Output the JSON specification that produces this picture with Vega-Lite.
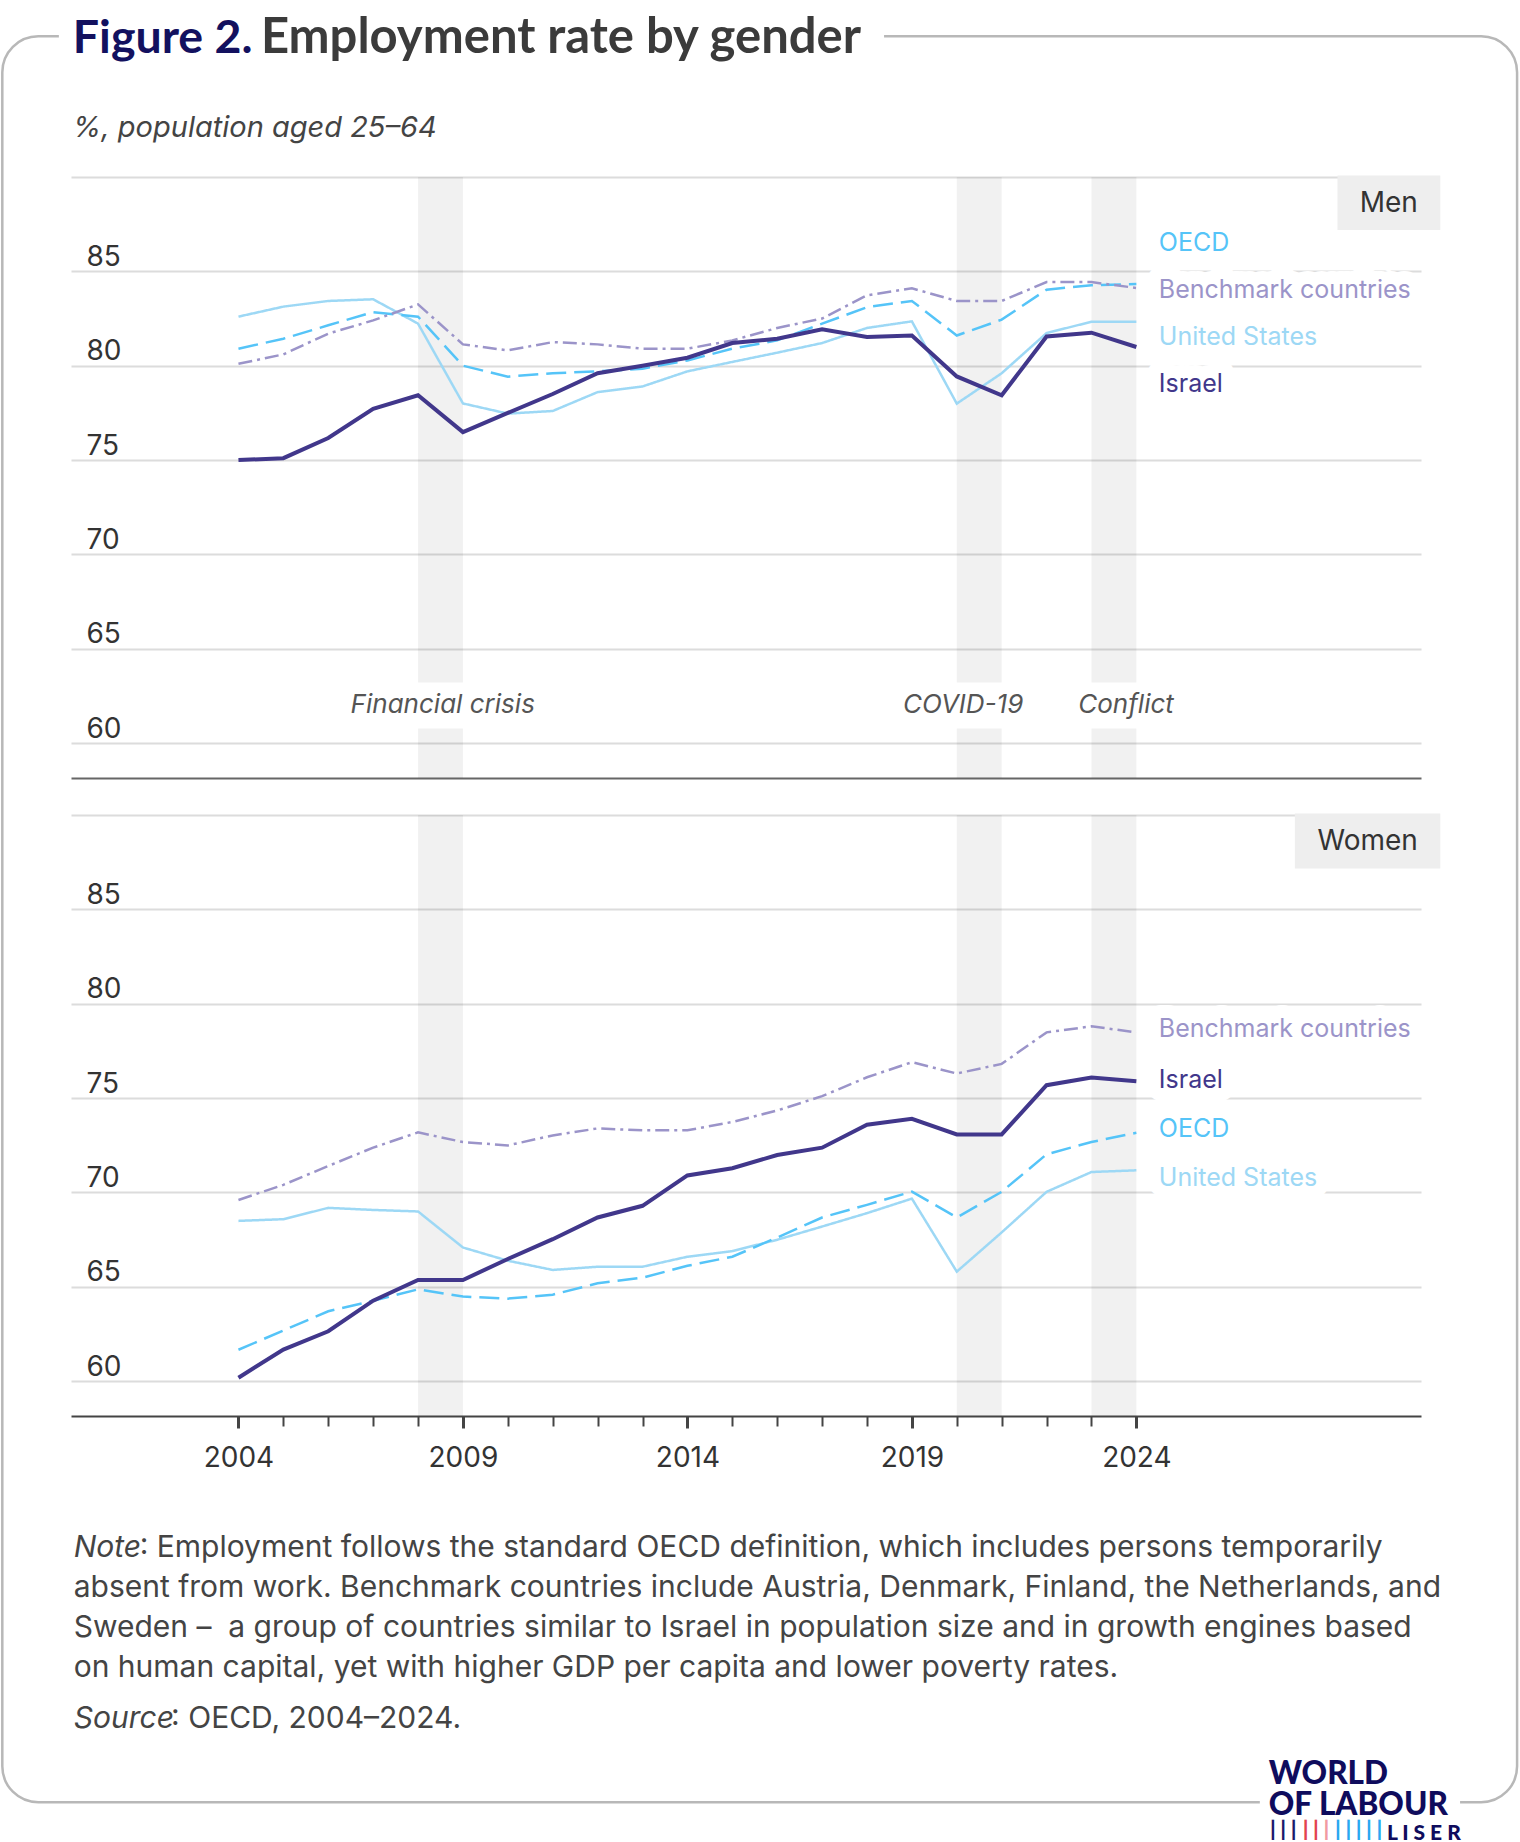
{
  "$schema": "https://vega.github.io/schema/vega-lite/v6.json",
  "background": "white",
  "padding": 0,
  "bounds": "flush",
  "spacing": 37,
  "config": {
    "view": {"stroke": null},
    "font": "Inter",
    "text": {"font": "Inter"}
  },
  "datasets": {
    "employment": [
      {"g": "Men", "s": "Israel", "year": 2004, "v": 75.0},
      {"g": "Men", "s": "Israel", "year": 2005, "v": 75.1},
      {"g": "Men", "s": "Israel", "year": 2006, "v": 76.17},
      {"g": "Men", "s": "Israel", "year": 2007, "v": 77.72},
      {"g": "Men", "s": "Israel", "year": 2008, "v": 78.43},
      {"g": "Men", "s": "Israel", "year": 2009, "v": 76.48},
      {"g": "Men", "s": "Israel", "year": 2010, "v": 77.5},
      {"g": "Men", "s": "Israel", "year": 2011, "v": 78.5},
      {"g": "Men", "s": "Israel", "year": 2012, "v": 79.6},
      {"g": "Men", "s": "Israel", "year": 2013, "v": 80.0},
      {"g": "Men", "s": "Israel", "year": 2014, "v": 80.42},
      {"g": "Men", "s": "Israel", "year": 2015, "v": 81.2},
      {"g": "Men", "s": "Israel", "year": 2016, "v": 81.43},
      {"g": "Men", "s": "Israel", "year": 2017, "v": 81.93},
      {"g": "Men", "s": "Israel", "year": 2018, "v": 81.52},
      {"g": "Men", "s": "Israel", "year": 2019, "v": 81.6},
      {"g": "Men", "s": "Israel", "year": 2020, "v": 79.43},
      {"g": "Men", "s": "Israel", "year": 2021, "v": 78.43},
      {"g": "Men", "s": "Israel", "year": 2022, "v": 81.55},
      {"g": "Men", "s": "Israel", "year": 2023, "v": 81.75},
      {"g": "Men", "s": "Israel", "year": 2024, "v": 80.99},
      {"g": "Men", "s": "United States", "year": 2004, "v": 82.6},
      {"g": "Men", "s": "United States", "year": 2005, "v": 83.13},
      {"g": "Men", "s": "United States", "year": 2006, "v": 83.43},
      {"g": "Men", "s": "United States", "year": 2007, "v": 83.52},
      {"g": "Men", "s": "United States", "year": 2008, "v": 82.23},
      {"g": "Men", "s": "United States", "year": 2009, "v": 78.0},
      {"g": "Men", "s": "United States", "year": 2010, "v": 77.46},
      {"g": "Men", "s": "United States", "year": 2011, "v": 77.6},
      {"g": "Men", "s": "United States", "year": 2012, "v": 78.6},
      {"g": "Men", "s": "United States", "year": 2013, "v": 78.9},
      {"g": "Men", "s": "United States", "year": 2014, "v": 79.7},
      {"g": "Men", "s": "United States", "year": 2015, "v": 80.2},
      {"g": "Men", "s": "United States", "year": 2016, "v": 80.69},
      {"g": "Men", "s": "United States", "year": 2017, "v": 81.2},
      {"g": "Men", "s": "United States", "year": 2018, "v": 82.0},
      {"g": "Men", "s": "United States", "year": 2019, "v": 82.35},
      {"g": "Men", "s": "United States", "year": 2020, "v": 77.99},
      {"g": "Men", "s": "United States", "year": 2021, "v": 79.6},
      {"g": "Men", "s": "United States", "year": 2022, "v": 81.73},
      {"g": "Men", "s": "United States", "year": 2023, "v": 82.33},
      {"g": "Men", "s": "United States", "year": 2024, "v": 82.33},
      {"g": "Men", "s": "OECD", "year": 2004, "v": 80.9},
      {"g": "Men", "s": "OECD", "year": 2005, "v": 81.43},
      {"g": "Men", "s": "OECD", "year": 2006, "v": 82.14},
      {"g": "Men", "s": "OECD", "year": 2007, "v": 82.84},
      {"g": "Men", "s": "OECD", "year": 2008, "v": 82.6},
      {"g": "Men", "s": "OECD", "year": 2009, "v": 80.0},
      {"g": "Men", "s": "OECD", "year": 2010, "v": 79.42},
      {"g": "Men", "s": "OECD", "year": 2011, "v": 79.6},
      {"g": "Men", "s": "OECD", "year": 2012, "v": 79.7},
      {"g": "Men", "s": "OECD", "year": 2013, "v": 79.84},
      {"g": "Men", "s": "OECD", "year": 2014, "v": 80.28},
      {"g": "Men", "s": "OECD", "year": 2015, "v": 80.9},
      {"g": "Men", "s": "OECD", "year": 2016, "v": 81.34},
      {"g": "Men", "s": "OECD", "year": 2017, "v": 82.23},
      {"g": "Men", "s": "OECD", "year": 2018, "v": 83.1},
      {"g": "Men", "s": "OECD", "year": 2019, "v": 83.43},
      {"g": "Men", "s": "OECD", "year": 2020, "v": 81.6},
      {"g": "Men", "s": "OECD", "year": 2021, "v": 82.44},
      {"g": "Men", "s": "OECD", "year": 2022, "v": 84.03},
      {"g": "Men", "s": "OECD", "year": 2023, "v": 84.26},
      {"g": "Men", "s": "OECD", "year": 2024, "v": 84.33},
      {"g": "Men", "s": "Benchmark countries", "year": 2004, "v": 80.1},
      {"g": "Men", "s": "Benchmark countries", "year": 2005, "v": 80.6},
      {"g": "Men", "s": "Benchmark countries", "year": 2006, "v": 81.7},
      {"g": "Men", "s": "Benchmark countries", "year": 2007, "v": 82.4},
      {"g": "Men", "s": "Benchmark countries", "year": 2008, "v": 83.25},
      {"g": "Men", "s": "Benchmark countries", "year": 2009, "v": 81.13},
      {"g": "Men", "s": "Benchmark countries", "year": 2010, "v": 80.81},
      {"g": "Men", "s": "Benchmark countries", "year": 2011, "v": 81.25},
      {"g": "Men", "s": "Benchmark countries", "year": 2012, "v": 81.13},
      {"g": "Men", "s": "Benchmark countries", "year": 2013, "v": 80.9},
      {"g": "Men", "s": "Benchmark countries", "year": 2014, "v": 80.9},
      {"g": "Men", "s": "Benchmark countries", "year": 2015, "v": 81.34},
      {"g": "Men", "s": "Benchmark countries", "year": 2016, "v": 82.0},
      {"g": "Men", "s": "Benchmark countries", "year": 2017, "v": 82.5},
      {"g": "Men", "s": "Benchmark countries", "year": 2018, "v": 83.73},
      {"g": "Men", "s": "Benchmark countries", "year": 2019, "v": 84.1},
      {"g": "Men", "s": "Benchmark countries", "year": 2020, "v": 83.43},
      {"g": "Men", "s": "Benchmark countries", "year": 2021, "v": 83.43},
      {"g": "Men", "s": "Benchmark countries", "year": 2022, "v": 84.43},
      {"g": "Men", "s": "Benchmark countries", "year": 2023, "v": 84.43},
      {"g": "Men", "s": "Benchmark countries", "year": 2024, "v": 84.12},
      {"g": "Women", "s": "Israel", "year": 2004, "v": 60.18},
      {"g": "Women", "s": "Israel", "year": 2005, "v": 61.67},
      {"g": "Women", "s": "Israel", "year": 2006, "v": 62.64},
      {"g": "Women", "s": "Israel", "year": 2007, "v": 64.26},
      {"g": "Women", "s": "Israel", "year": 2008, "v": 65.36},
      {"g": "Women", "s": "Israel", "year": 2009, "v": 65.36},
      {"g": "Women", "s": "Israel", "year": 2010, "v": 66.47},
      {"g": "Women", "s": "Israel", "year": 2011, "v": 67.52},
      {"g": "Women", "s": "Israel", "year": 2012, "v": 68.67},
      {"g": "Women", "s": "Israel", "year": 2013, "v": 69.29},
      {"g": "Women", "s": "Israel", "year": 2014, "v": 70.9},
      {"g": "Women", "s": "Israel", "year": 2015, "v": 71.28},
      {"g": "Women", "s": "Israel", "year": 2016, "v": 71.98},
      {"g": "Women", "s": "Israel", "year": 2017, "v": 72.37},
      {"g": "Women", "s": "Israel", "year": 2018, "v": 73.59},
      {"g": "Women", "s": "Israel", "year": 2019, "v": 73.9},
      {"g": "Women", "s": "Israel", "year": 2020, "v": 73.07},
      {"g": "Women", "s": "Israel", "year": 2021, "v": 73.07},
      {"g": "Women", "s": "Israel", "year": 2022, "v": 75.68},
      {"g": "Women", "s": "Israel", "year": 2023, "v": 76.09},
      {"g": "Women", "s": "Israel", "year": 2024, "v": 75.89},
      {"g": "Women", "s": "United States", "year": 2004, "v": 68.49},
      {"g": "Women", "s": "United States", "year": 2005, "v": 68.58},
      {"g": "Women", "s": "United States", "year": 2006, "v": 69.18},
      {"g": "Women", "s": "United States", "year": 2007, "v": 69.07},
      {"g": "Women", "s": "United States", "year": 2008, "v": 68.99},
      {"g": "Women", "s": "United States", "year": 2009, "v": 67.08},
      {"g": "Women", "s": "United States", "year": 2010, "v": 66.38},
      {"g": "Women", "s": "United States", "year": 2011, "v": 65.89},
      {"g": "Women", "s": "United States", "year": 2012, "v": 66.06},
      {"g": "Women", "s": "United States", "year": 2013, "v": 66.06},
      {"g": "Women", "s": "United States", "year": 2014, "v": 66.59},
      {"g": "Women", "s": "United States", "year": 2015, "v": 66.89},
      {"g": "Women", "s": "United States", "year": 2016, "v": 67.49},
      {"g": "Women", "s": "United States", "year": 2017, "v": 68.19},
      {"g": "Women", "s": "United States", "year": 2018, "v": 68.9},
      {"g": "Women", "s": "United States", "year": 2019, "v": 69.67},
      {"g": "Women", "s": "United States", "year": 2020, "v": 65.8},
      {"g": "Women", "s": "United States", "year": 2021, "v": 67.88},
      {"g": "Women", "s": "United States", "year": 2022, "v": 70.03},
      {"g": "Women", "s": "United States", "year": 2023, "v": 71.08},
      {"g": "Women", "s": "United States", "year": 2024, "v": 71.17},
      {"g": "Women", "s": "OECD", "year": 2004, "v": 61.66},
      {"g": "Women", "s": "OECD", "year": 2005, "v": 62.68},
      {"g": "Women", "s": "OECD", "year": 2006, "v": 63.7},
      {"g": "Women", "s": "OECD", "year": 2007, "v": 64.26},
      {"g": "Women", "s": "OECD", "year": 2008, "v": 64.86},
      {"g": "Women", "s": "OECD", "year": 2009, "v": 64.48},
      {"g": "Women", "s": "OECD", "year": 2010, "v": 64.37},
      {"g": "Women", "s": "OECD", "year": 2011, "v": 64.58},
      {"g": "Women", "s": "OECD", "year": 2012, "v": 65.18},
      {"g": "Women", "s": "OECD", "year": 2013, "v": 65.48},
      {"g": "Women", "s": "OECD", "year": 2014, "v": 66.11},
      {"g": "Women", "s": "OECD", "year": 2015, "v": 66.59},
      {"g": "Women", "s": "OECD", "year": 2016, "v": 67.61},
      {"g": "Women", "s": "OECD", "year": 2017, "v": 68.67},
      {"g": "Women", "s": "OECD", "year": 2018, "v": 69.34},
      {"g": "Women", "s": "OECD", "year": 2019, "v": 70.04},
      {"g": "Women", "s": "OECD", "year": 2020, "v": 68.67},
      {"g": "Women", "s": "OECD", "year": 2021, "v": 70.03},
      {"g": "Women", "s": "OECD", "year": 2022, "v": 72.02},
      {"g": "Women", "s": "OECD", "year": 2023, "v": 72.67},
      {"g": "Women", "s": "OECD", "year": 2024, "v": 73.16},
      {"g": "Women", "s": "Benchmark countries", "year": 2004, "v": 69.6},
      {"g": "Women", "s": "Benchmark countries", "year": 2005, "v": 70.4},
      {"g": "Women", "s": "Benchmark countries", "year": 2006, "v": 71.4},
      {"g": "Women", "s": "Benchmark countries", "year": 2007, "v": 72.37},
      {"g": "Women", "s": "Benchmark countries", "year": 2008, "v": 73.18},
      {"g": "Women", "s": "Benchmark countries", "year": 2009, "v": 72.67},
      {"g": "Women", "s": "Benchmark countries", "year": 2010, "v": 72.49},
      {"g": "Women", "s": "Benchmark countries", "year": 2011, "v": 73.02},
      {"g": "Women", "s": "Benchmark countries", "year": 2012, "v": 73.39},
      {"g": "Women", "s": "Benchmark countries", "year": 2013, "v": 73.29},
      {"g": "Women", "s": "Benchmark countries", "year": 2014, "v": 73.29},
      {"g": "Women", "s": "Benchmark countries", "year": 2015, "v": 73.73},
      {"g": "Women", "s": "Benchmark countries", "year": 2016, "v": 74.34},
      {"g": "Women", "s": "Benchmark countries", "year": 2017, "v": 75.1},
      {"g": "Women", "s": "Benchmark countries", "year": 2018, "v": 76.1},
      {"g": "Women", "s": "Benchmark countries", "year": 2019, "v": 76.9},
      {"g": "Women", "s": "Benchmark countries", "year": 2020, "v": 76.3},
      {"g": "Women", "s": "Benchmark countries", "year": 2021, "v": 76.81},
      {"g": "Women", "s": "Benchmark countries", "year": 2022, "v": 78.48},
      {"g": "Women", "s": "Benchmark countries", "year": 2023, "v": 78.8},
      {"g": "Women", "s": "Benchmark countries", "year": 2024, "v": 78.48}
    ],
    "labels": [
      {"g": "Men", "s": "OECD", "at": 86.08},
      {"g": "Men", "s": "Benchmark countries", "at": 83.57},
      {"g": "Men", "s": "United States", "at": 81.1},
      {"g": "Men", "s": "Israel", "at": 78.58},
      {"g": "Women", "s": "Benchmark countries", "at": 78.24},
      {"g": "Women", "s": "Israel", "at": 75.52},
      {"g": "Women", "s": "OECD", "at": 72.94},
      {"g": "Women", "s": "United States", "at": 70.34}
    ],
    "events": [
      {"event": "Financial crisis", "start": 2008, "end": 2009, "label_at": 2008.55},
      {"event": "COVID-19", "start": 2020, "end": 2021, "label_at": 2020.14},
      {"event": "Conflict", "start": 2023, "end": 2024, "label_at": 2023.77}
    ]
  },
  "vconcat": [
    {
      "width": 1350,
      "height": 601,
      "layer": [
        {
          "data": {"name": "events"},
          "mark": {"type": "rect", "fill": "#000000", "fillOpacity": 0.055},
          "encoding": {
            "x": {
              "field": "start", "type": "quantitative",
              "scale": {"domain": [2000.27, 2030.34], "nice": false, "zero": false},
              "axis": {"domain": true, "domainColor": "#666666", "domainWidth": 2, "ticks": false, "labels": false, "grid": false, "title": null}
            },
            "x2": {"field": "end"},
            "y": {
              "datum": 63.21, "type": "quantitative",
              "scale": {"domain": [58.15, 90], "nice": false, "zero": false},
              "axis": {
                "values": [60, 65, 70, 75, 80, 85, 90],
                "labelExpr": "datum.value == 90 ? '' : datum.label",
                "grid": true, "gridColor": "#dcdcdc", "gridWidth": 2,
                "domain": false, "ticks": false, "tickSize": 0,
                "labelAlign": "left", "labelBaseline": "alphabetic",
                "labelPadding": -15, "labelOffset": -6,
                "labelFont": "Inter", "labelFontSize": 28, "labelColor": "#333333",
                "title": null
              }
            },
            "y2": {"datum": 90}
          }
        },
        {
          "data": {"name": "events"},
          "mark": {"type": "rect", "fill": "#000000", "fillOpacity": 0.055},
          "encoding": {
            "x": {"field": "start", "type": "quantitative"},
            "x2": {"field": "end"},
            "y": {"datum": 58.15, "type": "quantitative"},
            "y2": {"datum": 60.77}
          }
        },
        {
          "data": {"values": [{}]},
          "mark": {"type": "rect", "fill": "white", "fillOpacity": 0},
          "encoding": {
            "x": {"datum": 1998.689, "type": "quantitative"},
            "x2": {"datum": 2032.545},
            "y": {"datum": 99.354, "type": "quantitative"},
            "y2": {"datum": 1.729}
          }
        },
        {
          "data": {"values": [{}]},
          "mark": {"type": "rect", "filled": false, "stroke": "#b8b8b8", "strokeWidth": 2.5, "cornerRadius": 36},
          "encoding": {
            "x": {"datum": 1998.74, "type": "quantitative"},
            "x2": {"datum": 2032.48},
            "y": {"datum": 97.46, "type": "quantitative"},
            "y2": {"datum": 3.87}
          }
        },
        {
          "data": {"values": [{}]},
          "mark": {"type": "rect", "fill": "white"},
          "encoding": {
            "x": {"datum": 2000.0, "type": "quantitative"},
            "x2": {"datum": 2018.38},
            "y": {"datum": 96.9, "type": "quantitative"},
            "y2": {"datum": 98.0}
          }
        },
        {
          "data": {"values": [{}]},
          "mark": {"type": "text", "text": "Figure 2.", "font": "Lato", "fontWeight": "bold", "fontSize": 46.5, "color": "#13115f", "align": "left", "baseline": "alphabetic"},
          "encoding": {
            "x": {"datum": 2000.31, "type": "quantitative"},
            "y": {"datum": 96.57, "type": "quantitative"}
          }
        },
        {
          "data": {"values": [{}]},
          "mark": {"type": "text", "text": "Employment rate by gender", "font": "Lato", "fontWeight": "bold", "fontSize": 49, "color": "#3b3b3b", "align": "left", "baseline": "alphabetic"},
          "encoding": {
            "x": {"datum": 2004.5, "type": "quantitative"},
            "y": {"datum": 96.57, "type": "quantitative"}
          }
        },
        {
          "data": {"values": [{}]},
          "mark": {"type": "text", "text": "%, population aged 25–64", "fontStyle": "italic", "fontSize": 29, "color": "#444444", "align": "left", "baseline": "alphabetic"},
          "encoding": {
            "x": {"datum": 2000.31, "type": "quantitative"},
            "y": {"datum": 92.11, "type": "quantitative"}
          }
        },
        {
          "data": {"name": "events"},
          "mark": {"type": "text", "fontStyle": "italic", "fontSize": 26, "color": "#555555", "align": "center", "baseline": "alphabetic"},
          "encoding": {
            "x": {"field": "label_at", "type": "quantitative"},
            "y": {"datum": 61.57, "type": "quantitative"},
            "text": {"field": "event"}
          }
        },
        {
          "data": {"values": [{}]},
          "mark": {"type": "rect", "fill": "#eeeeee"},
          "encoding": {
            "x": {"datum": 2028.48, "type": "quantitative"},
            "x2": {"datum": 2030.77},
            "y": {"datum": 87.19, "type": "quantitative"},
            "y2": {"datum": 90.08}
          }
        },
        {
          "data": {"values": [{}]},
          "mark": {"type": "text", "text": "Men", "fontSize": 28, "color": "#333333", "align": "right", "baseline": "alphabetic"},
          "encoding": {
            "x": {"datum": 2030.27, "type": "quantitative"},
            "y": {"datum": 88.13, "type": "quantitative"}
          }
        },
        {
          "data": {"name": "employment"},
          "transform": [{"filter": "datum.g == 'Men' && datum.s != 'Israel'"}],
          "mark": {"type": "line", "strokeWidth": 2.5},
          "encoding": {
            "x": {"field": "year", "type": "quantitative"},
            "y": {"field": "v", "type": "quantitative"},
            "color": {
              "field": "s", "type": "nominal", "legend": null,
              "scale": {"domain": ["Israel", "Benchmark countries", "OECD", "United States"], "range": ["#41378b", "#9b94c9", "#55c4f8", "#9dd8f5"]}
            },
            "strokeDash": {
              "field": "s", "type": "nominal", "legend": null,
              "scale": {"domain": ["Israel", "Benchmark countries", "OECD", "United States"], "range": [[1, 0], [14, 5, 3, 5], [20, 8], [1, 0]]}
            }
          }
        },
        {
          "data": {"name": "employment"},
          "transform": [{"filter": "datum.g == 'Men' && datum.s == 'Israel'"}],
          "mark": {"type": "line", "strokeWidth": 4, "color": "#41378b"},
          "encoding": {
            "x": {"field": "year", "type": "quantitative"},
            "y": {"field": "v", "type": "quantitative"}
          }
        },
        {
          "data": {"name": "labels"},
          "transform": [{"filter": "datum.g == 'Men'"}],
          "mark": {"type": "text", "fontSize": 25, "align": "left", "baseline": "alphabetic", "fill": "white", "stroke": "white", "strokeWidth": 26, "strokeJoin": "round"},
          "encoding": {
            "x": {"datum": 2024.5, "type": "quantitative"},
            "y": {"field": "at", "type": "quantitative"},
            "text": {"field": "s"}
          }
        },
        {
          "data": {"name": "labels"},
          "transform": [{"filter": "datum.g == 'Men'"}],
          "mark": {"type": "text", "fontSize": 25, "align": "left", "baseline": "alphabetic"},
          "encoding": {
            "x": {"datum": 2024.5, "type": "quantitative"},
            "y": {"field": "at", "type": "quantitative"},
            "text": {"field": "s"},
            "color": {"field": "s", "type": "nominal", "legend": null}
          }
        }
      ]
    },
    {
      "width": 1350,
      "height": 601,
      "layer": [
        {
          "data": {"name": "events"},
          "mark": {"type": "rect", "fill": "#000000", "fillOpacity": 0.055},
          "encoding": {
            "x": {
              "field": "start", "type": "quantitative",
              "scale": {"domain": [2000.27, 2030.34], "nice": false, "zero": false},
              "axis": {
                "values": [2004, 2005, 2006, 2007, 2008, 2009, 2010, 2011, 2012, 2013, 2014, 2015, 2016, 2017, 2018, 2019, 2020, 2021, 2022, 2023, 2024],
                "format": "d",
                "labelExpr": "datum.value % 5 == 4 ? datum.label : ''",
                "domain": true, "domainColor": "#444444", "domainWidth": 2,
                "ticks": true, "tickColor": "#444444",
                "tickWidth": {"condition": {"test": "datum.value % 5 == 4", "value": 3}, "value": 2},
                "tickSize": {"condition": {"test": "datum.value % 5 == 4", "value": 12}, "value": 10},
                "labelPadding": 16, "labelFont": "Inter", "labelFontSize": 28, "labelColor": "#333333",
                "grid": false, "title": null
              }
            },
            "x2": {"field": "end"},
            "y": {
              "datum": 58.15, "type": "quantitative",
              "scale": {"domain": [58.15, 90], "nice": false, "zero": false},
              "axis": {
                "values": [60, 65, 70, 75, 80, 85, 90],
                "labelExpr": "datum.value == 90 ? '' : datum.label",
                "grid": true, "gridColor": "#dcdcdc", "gridWidth": 2,
                "domain": false, "ticks": false, "tickSize": 0,
                "labelAlign": "left", "labelBaseline": "alphabetic",
                "labelPadding": -15, "labelOffset": -6,
                "labelFont": "Inter", "labelFontSize": 28, "labelColor": "#333333",
                "title": null
              }
            },
            "y2": {"datum": 90}
          }
        },
        {
          "data": {"values": [{}]},
          "mark": {"type": "rect", "fill": "#eeeeee"},
          "encoding": {
            "x": {"datum": 2027.53, "type": "quantitative"},
            "x2": {"datum": 2030.77},
            "y": {"datum": 87.16, "type": "quantitative"},
            "y2": {"datum": 90.08}
          }
        },
        {
          "data": {"values": [{}]},
          "mark": {"type": "text", "text": "Women", "fontSize": 28, "color": "#333333", "align": "right", "baseline": "alphabetic"},
          "encoding": {
            "x": {"datum": 2030.27, "type": "quantitative"},
            "y": {"datum": 88.12, "type": "quantitative"}
          }
        },
        {
          "data": {"name": "employment"},
          "transform": [{"filter": "datum.g == 'Women' && datum.s != 'Israel'"}],
          "mark": {"type": "line", "strokeWidth": 2.5},
          "encoding": {
            "x": {"field": "year", "type": "quantitative"},
            "y": {"field": "v", "type": "quantitative"},
            "color": {
              "field": "s", "type": "nominal", "legend": null,
              "scale": {"domain": ["Israel", "Benchmark countries", "OECD", "United States"], "range": ["#41378b", "#9b94c9", "#55c4f8", "#9dd8f5"]}
            },
            "strokeDash": {
              "field": "s", "type": "nominal", "legend": null,
              "scale": {"domain": ["Israel", "Benchmark countries", "OECD", "United States"], "range": [[1, 0], [14, 5, 3, 5], [20, 8], [1, 0]]}
            }
          }
        },
        {
          "data": {"name": "employment"},
          "transform": [{"filter": "datum.g == 'Women' && datum.s == 'Israel'"}],
          "mark": {"type": "line", "strokeWidth": 4, "color": "#41378b"},
          "encoding": {
            "x": {"field": "year", "type": "quantitative"},
            "y": {"field": "v", "type": "quantitative"}
          }
        },
        {
          "data": {"name": "labels"},
          "transform": [{"filter": "datum.g == 'Women'"}],
          "mark": {"type": "text", "fontSize": 25, "align": "left", "baseline": "alphabetic", "fill": "white", "stroke": "white", "strokeWidth": 26, "strokeJoin": "round"},
          "encoding": {
            "x": {"datum": 2024.5, "type": "quantitative"},
            "y": {"field": "at", "type": "quantitative"},
            "text": {"field": "s"}
          }
        },
        {
          "data": {"name": "labels"},
          "transform": [{"filter": "datum.g == 'Women'"}],
          "mark": {"type": "text", "fontSize": 25, "align": "left", "baseline": "alphabetic"},
          "encoding": {
            "x": {"datum": 2024.5, "type": "quantitative"},
            "y": {"field": "at", "type": "quantitative"},
            "text": {"field": "s"},
            "color": {"field": "s", "type": "nominal", "legend": null}
          }
        },
        {
          "data": {"values": [{}]},
          "mark": {"type": "text", "text": "Note", "fontStyle": "italic", "fontSize": 30, "color": "#444444", "align": "left", "baseline": "alphabetic"},
          "encoding": {
            "x": {"datum": 2000.33, "type": "quantitative"},
            "y": {"datum": 50.66, "type": "quantitative"}
          }
        },
        {
          "data": {"values": [{}]},
          "mark": {"type": "text", "text": ": Employment follows the standard OECD definition, which includes persons temporarily", "fontSize": 30, "color": "#444444", "align": "left", "baseline": "alphabetic"},
          "encoding": {
            "x": {"datum": 2001.8, "type": "quantitative"},
            "y": {"datum": 50.66, "type": "quantitative"}
          }
        },
        {
          "data": {"values": [{}]},
          "mark": {"type": "text", "text": "absent from work. Benchmark countries include Austria, Denmark, Finland, the Netherlands, and", "fontSize": 30, "color": "#444444", "align": "left", "baseline": "alphabetic"},
          "encoding": {
            "x": {"datum": 2000.33, "type": "quantitative"},
            "y": {"datum": 48.54, "type": "quantitative"}
          }
        },
        {
          "data": {"values": [{}]},
          "mark": {"type": "text", "text": "Sweden – \u00a0a group of countries similar to Israel in population size and in growth engines based", "fontSize": 30, "color": "#444444", "align": "left", "baseline": "alphabetic"},
          "encoding": {
            "x": {"datum": 2000.33, "type": "quantitative"},
            "y": {"datum": 46.42, "type": "quantitative"}
          }
        },
        {
          "data": {"values": [{}]},
          "mark": {"type": "text", "text": "on human capital, yet with higher GDP per capita and lower poverty rates.", "fontSize": 30, "color": "#444444", "align": "left", "baseline": "alphabetic"},
          "encoding": {
            "x": {"datum": 2000.33, "type": "quantitative"},
            "y": {"datum": 44.3, "type": "quantitative"}
          }
        },
        {
          "data": {"values": [{}]},
          "mark": {"type": "text", "text": "Source", "fontStyle": "italic", "fontSize": 30, "color": "#444444", "align": "left", "baseline": "alphabetic"},
          "encoding": {
            "x": {"datum": 2000.33, "type": "quantitative"},
            "y": {"datum": 41.59, "type": "quantitative"}
          }
        },
        {
          "data": {"values": [{}]},
          "mark": {"type": "text", "text": ": OECD, 2004–2024.", "fontSize": 30, "color": "#444444", "align": "left", "baseline": "alphabetic"},
          "encoding": {
            "x": {"datum": 2002.5, "type": "quantitative"},
            "y": {"datum": 41.59, "type": "quantitative"}
          }
        },
        {
          "data": {"values": [{}]},
          "mark": {"type": "rect", "fill": "white"},
          "encoding": {
            "x": {"datum": 2026.75, "type": "quantitative"},
            "x2": {"datum": 2031.21},
            "y": {"datum": 37.33, "type": "quantitative"},
            "y2": {"datum": 38.03}
          }
        },
        {
          "data": {"values": [{}]},
          "mark": {"type": "text", "text": "WORLD", "font": "Lato", "fontWeight": 900, "fontSize": 31.5, "color": "#0f0c5d", "align": "left", "baseline": "alphabetic"},
          "encoding": {
            "x": {"datum": 2026.95, "type": "quantitative"},
            "y": {"datum": 38.65, "type": "quantitative"}
          }
        },
        {
          "data": {"values": [{}]},
          "mark": {"type": "text", "text": "OF LABOUR", "font": "Lato", "fontWeight": 900, "fontSize": 31.5, "color": "#0f0c5d", "align": "left", "baseline": "alphabetic"},
          "encoding": {
            "x": {"datum": 2026.95, "type": "quantitative"},
            "y": {"datum": 37.01, "type": "quantitative"}
          }
        },
        {
          "data": {"values": [{}]},
          "mark": {"type": "text", "text": "| | |", "fontWeight": "bold", "fontSize": 17, "color": "#1c1a6b", "align": "left", "baseline": "alphabetic"},
          "encoding": {
            "x": {"datum": 2026.97, "type": "quantitative"},
            "y": {"datum": 35.91, "type": "quantitative"}
          }
        },
        {
          "data": {"values": [{}]},
          "mark": {"type": "text", "text": "| |", "fontWeight": "bold", "fontSize": 17, "color": "#e2434f", "align": "left", "baseline": "alphabetic"},
          "encoding": {
            "x": {"datum": 2027.7, "type": "quantitative"},
            "y": {"datum": 35.91, "type": "quantitative"}
          }
        },
        {
          "data": {"values": [{}]},
          "mark": {"type": "text", "text": "|", "fontWeight": "bold", "fontSize": 17, "color": "#f19aa2", "align": "left", "baseline": "alphabetic"},
          "encoding": {
            "x": {"datum": 2028.16, "type": "quantitative"},
            "y": {"datum": 35.91, "type": "quantitative"}
          }
        },
        {
          "data": {"values": [{}]},
          "mark": {"type": "text", "text": "| | | | |", "fontWeight": "bold", "fontSize": 17, "color": "#2aa7f0", "align": "left", "baseline": "alphabetic"},
          "encoding": {
            "x": {"datum": 2028.42, "type": "quantitative"},
            "y": {"datum": 35.91, "type": "quantitative"}
          }
        },
        {
          "data": {"values": [{}]},
          "mark": {"type": "text", "text": "L I S E R", "font": "Lato", "fontWeight": 900, "fontSize": 21, "color": "#0f0c5d", "align": "left", "baseline": "alphabetic"},
          "encoding": {
            "x": {"datum": 2029.58, "type": "quantitative"},
            "y": {"datum": 35.7, "type": "quantitative"}
          }
        }
      ]
    }
  ]
}
